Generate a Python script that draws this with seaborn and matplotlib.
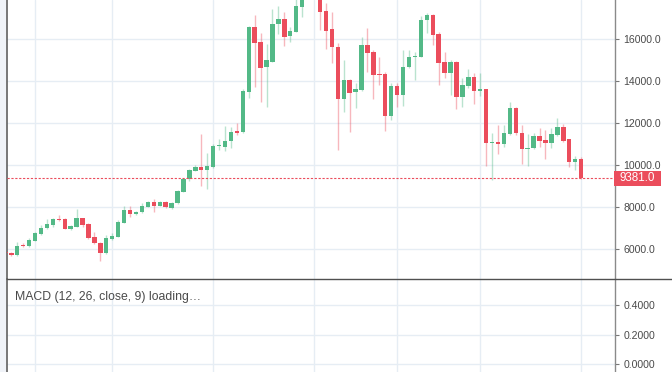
import numpy as np
import pandas as pd
import matplotlib.pyplot as plt
import seaborn as sns
from matplotlib.lines import Line2D
from matplotlib.patches import Rectangle
from matplotlib.transforms import blended_transform_factory

# daily candles
opens = [5871, 5791, 5712, 6189, 6141, 6396, 6714, 6984, 7143, 7413,
         7413, 6936, 7063, 7461, 7175, 6555, 6268, 5791, 6459, 6587,
         7254, 7859, 7654, 7750, 8017, 8255, 8064, 8255, 7940, 8179,
         8732, 9338, 9734, 9896, 9767, 9925, 10890, 10878, 11164, 11593,
         11565, 13501, 16601, 15857, 14693, 14917, 16729, 16982, 16157, 16362,
         17554, 19100, 19000, 18900, 17349, 16477, 15647, 13167, 14059, 13487,
         13582, 15714, 15380, 14345, 14345, 12356, 13773, 13343, 14693, 15141,
         15141, 16920, 17159, 16238, 14917, 14407, 14917, 13234, 13773, 14216,
         13549, 13615, 11040, 11116, 11007, 11469, 12738, 11545, 10768, 10830,
         11402, 11197, 11069, 11436, 11832, 11231, 10163, 10277]
highs = [5919, 5839, 6348, 6268, 6507, 6825, 7143, 7413, 7493, 7620,
         7461, 7143, 7906, 7493, 7222, 6825, 6348, 6666, 6777, 7381,
         8050, 8064, 7826, 8179, 8300, 8370, 8300, 8290, 8260, 8800,
         9400, 9820, 10000, 11469, 10563, 11000, 11231, 11865, 11832, 11994,
         13615, 16650, 17159, 16315, 15761, 17430, 17588, 17287, 16572, 17900,
         19500, 19800, 19200, 19000, 17717, 17316, 15838, 15013, 14100, 13901,
         16095, 16524, 15490, 15141, 14455, 13930, 13930, 15490, 15490, 15408,
         17125, 17240, 17200, 16362, 15408, 15013, 14950, 14140, 14569, 14378,
         14407, 13650, 11517, 11913, 11913, 13024, 12770, 11913, 11469, 11545,
         11784, 11674, 11755, 12232, 11960, 11260, 10434, 10401]
lows = [5744, 5664, 5680, 6078, 6110, 6380, 6666, 6952, 7063, 7334,
        6936, 6904, 7032, 7032, 6459, 6221, 5442, 5775, 6428, 6570,
        7225, 7540, 7620, 7720, 7990, 7778, 8030, 7960, 7900, 8150,
        8700, 9260, 9700, 9018, 8861, 9850, 10721, 10687, 10802, 11436,
        11517, 13186, 13739, 13024, 12757, 14900, 16238, 15680, 15885, 16330,
        17078, 18900, 18000, 16443, 15523, 14855, 10720, 12547, 11593, 12709,
        13549, 14455, 13153, 13820, 11641, 12151, 12786, 12819, 14617, 14059,
        15141, 16286, 15728, 13820, 14140, 13343, 12661, 12786, 13663, 12914,
        13296, 9972, 9290, 10530, 10850, 11436, 11436, 10053, 9958, 10754,
        10850, 10277, 10802, 11388, 11116, 9924, 9767, 9340]
closes = [5791, 5712, 6157, 6141, 6428, 6746, 7016, 7175, 7413, 7366,
          6952, 7111, 7461, 7143, 6507, 6268, 5823, 6507, 6618, 7302,
          7859, 7654, 7778, 8064, 8255, 8064, 8255, 7990, 8207, 8765,
          9323, 9767, 9896, 9767, 9958, 10900, 10930, 11164, 11593, 11545,
          13549, 16601, 15809, 14617, 15013, 16729, 16982, 16124, 16410, 17588,
          19100, 19000, 18900, 17316, 16410, 15618, 13167, 14059, 13453, 13615,
          15714, 15332, 14297, 14297, 12356, 13773, 13343, 14693, 15170, 15203,
          16920, 17159, 16205, 14884, 14407, 14917, 13234, 13820, 14216, 13549,
          13620, 11040, 11116, 11007, 11517, 12738, 11517, 10754, 10830, 11402,
          11150, 11040, 11469, 11832, 11164, 10163, 10277, 9381]

last_price = 9381.0
price_ticks = [6000, 8000, 10000, 12000, 14000, 16000]
macd_ticks = [0.0, 0.2, 0.4]
grid_days = [5, 18, 35, 52, 66, 80, 97]
macd_title = "MACD (12, 26, close, 9) loading…"

UP = "#53b987"
DOWN = "#eb4d5c"
GRID = "#e6edf4"
TXT = "#4a4a4a"

df = pd.DataFrame({"open": opens, "high": highs, "low": lows, "close": closes})
df["day"] = np.arange(len(df))
df["up"] = df["close"] >= df["open"]

sns.set_theme(style="white")
plt.rcParams['font.family'] = ['Liberation Sans', 'DejaVu Sans']

W, H = 672, 372
fig = plt.figure(figsize=(W / 100, H / 100), dpi=100)
fig.patch.set_facecolor("white")
fig.patches.append(Rectangle((0, 0), 6 / W, 1, transform=fig.transFigure,
                             facecolor="#f0f3f8", edgecolor="none", zorder=0))

ax = fig.add_axes([7 / W, (H - 279) / H, 608 / W, 279 / H])
ax2 = fig.add_axes([7 / W, 0, 608 / W, 93 / H])

# wicks, then bodies
wick_cols = [(UP if u else DOWN) for u in df["up"]]
ax.vlines(df["day"], df["low"], df["high"], colors=wick_cols, linewidth=1.0,
          alpha=0.4, zorder=2)
body_bottom = df[["open", "close"]].min(axis=1)
body_height = (df["close"] - df["open"]).abs().clip(lower=60)
ax.bar(df["day"], body_height, bottom=body_bottom, width=0.74,
       color=wick_cols, linewidth=0, zorder=3)

xlim = (0.27, 102.71)
ax.set_xlim(*xlim)
ax.set_ylim(4569, 17874)
ax.set_xticks(grid_days)
ax.set_yticks(price_ticks)
ax.set_yticklabels([f"{t:.1f}" for t in price_ticks])
ax.grid(True, color=GRID, linewidth=1.0, zorder=0)
ax.yaxis.tick_right()
ax.tick_params(axis="x", length=0, labelbottom=False)
ax.tick_params(axis="y", right=True, length=3, width=0.8, color="#777777",
               labelsize=7.6, labelcolor=TXT, pad=3)

# last price line and badge
ax.axhline(last_price, color=DOWN, linestyle=(0, (2, 1.5)), linewidth=0.8, zorder=4)
y_badge = H - (39.3 + (16000 - last_price) / 47.69)
fig.patches.append(Rectangle((614 / W, (y_badge - 7.5) / H), 47 / W, 15 / H,
                             transform=fig.transFigure, facecolor=DOWN,
                             edgecolor="none", zorder=5))
fig.text(637.5 / W, y_badge / H, f"{last_price:.1f}", color="white", fontsize=8.4,
         ha="center", va="center", zorder=6)
# cut off top label
fig.text(622 / W, (H + 3) / H, "18000.0", color=TXT, fontsize=7.6, ha="left", va="center")

# MACD pane
ax2.set_xlim(*xlim)
ax2.set_ylim(-0.054, 0.576)
ax2.set_xticks(grid_days)
ax2.set_yticks(macd_ticks)
ax2.set_yticklabels([f"{t:.4f}" for t in macd_ticks])
ax2.grid(True, color=GRID, linewidth=1.0, zorder=0)
ax2.yaxis.tick_right()
ax2.tick_params(axis="x", length=0, labelbottom=False)
ax2.tick_params(axis="y", right=True, length=3, width=0.8, color="#777777",
                labelsize=7.6, labelcolor=TXT, pad=3)
ax2.text(8 / 608, 1 - 18 / 93, macd_title, transform=ax2.transAxes, color=TXT,
         fontsize=8.8, ha="left", va="center")

for a in (ax, ax2):
    for side in ("top", "bottom"):
        a.spines[side].set_visible(False)
    a.spines["left"].set_color("#606060")
    a.spines["left"].set_linewidth(1.2)
    a.spines["right"].set_color("#8a8a8a")
    a.spines["right"].set_linewidth(1.0)

# pane separator across the full width
fig.add_artist(Line2D([7 / W, 1], [(H - 279) / H] * 2, transform=fig.transFigure,
                      color="#505050", linewidth=1.0))

fig.savefig("out.png", dpi=100)
